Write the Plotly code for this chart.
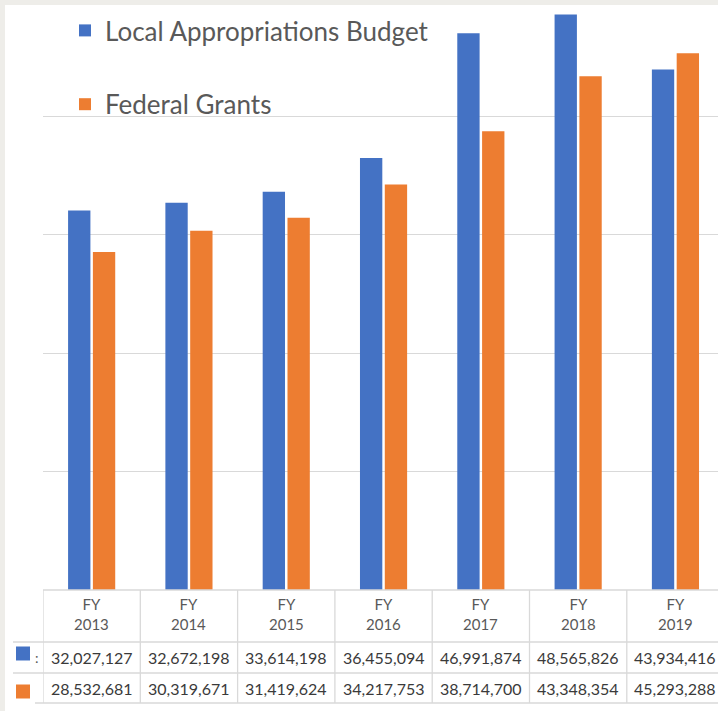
import plotly.graph_objects as go

categories = ["FY<br>2013", "FY<br>2014", "FY<br>2015", "FY<br>2016", "FY<br>2017", "FY<br>2018", "FY<br>2019"]
local_budget = [32027127, 32672198, 33614198, 36455094, 46991874, 48565826, 43934416]
federal_grants = [28532681, 30319671, 31419624, 34217753, 38714700, 43348354, 45293288]
series_names = ["Local Appropriations Budget", "Federal Grants"]
colors = ["#4472C4", "#ED7D31"]

W, H = 718, 711
L, R, T, B = 43, 0, 5, 121
PW, PH = W - L - R, H - T - B
BASE = H - B  # baseline pixel y


def py(p):
    return (BASE - p) / PH


def px(p):
    return (p - L) / PW


TXT = "#595959"
GRID = "#d9d9d9"

fig = go.Figure()
xs = list(range(len(categories)))
for name, vals, col in zip(series_names, [local_budget, federal_grants], colors):
    fig.add_trace(go.Bar(x=xs, y=vals, name=name, marker=dict(color=col, line=dict(width=0)),
                         legendgroup=name))

shapes = []
# white chart panel over light grey page
shapes.append(dict(type="rect", xref="paper", yref="paper", x0=px(5), x1=px(W + 2), y0=py(H + 2), y1=py(5),
                   fillcolor="white", line=dict(width=0), layer="below"))
# table horizontal lines
for yy, x0 in [(BASE, L), (642, 13), (673, 13), (703, 35)]:
    shapes.append(dict(type="line", xref="paper", yref="paper", x0=px(x0), x1=px(W + 2), y0=py(yy), y1=py(yy),
                       line=dict(color=GRID, width=1.3)))
# table vertical lines
for i in range(len(categories)):
    shapes.append(dict(type="line", xref="x", yref="paper", x0=i - 0.5, x1=i - 0.5, y0=py(703), y1=py(BASE),
                       line=dict(color=GRID, width=1.3)))

annotations = []
for i, cat in enumerate(categories):
    annotations.append(dict(x=i, y=py(614), xref="x", yref="paper", text=cat, showarrow=False,
                            font=dict(family="Lato", size=15, color=TXT), xanchor="center", yanchor="middle"))
    annotations.append(dict(x=i, y=py(657.5), xref="x", yref="paper", text=f"{local_budget[i]:,}",
                            showarrow=False, font=dict(family="Lato", size=16, color="#3a3a3a"),
                            xanchor="center", yanchor="middle"))
    annotations.append(dict(x=i, y=py(688.5), xref="x", yref="paper", text=f"{federal_grants[i]:,}",
                            showarrow=False, font=dict(family="Lato", size=16, color="#3a3a3a"),
                            xanchor="center", yanchor="middle"))
# table row keys
for yc, col in [(653.5, colors[0]), (691.5, colors[1])]:
    shapes.append(dict(type="rect", xref="paper", yref="paper", x0=px(16), x1=px(30), y0=py(yc + 7), y1=py(yc - 7),
                       fillcolor=col, line=dict(width=0)))
annotations.append(dict(x=px(37), y=py(657), xref="paper", yref="paper", text=":", showarrow=False,
                        font=dict(family="Lato", size=14, color=TXT), xanchor="center", yanchor="middle"))

fig.update_layout(
    width=W, height=H,
    margin=dict(l=L, r=R, t=T, b=B),
    paper_bgcolor="#eeede9",
    plot_bgcolor="white",
    barmode="group",
    bargap=0.49,
    bargroupgap=0.1,
    showlegend=True,
    legend=dict(x=px(65), y=py(7), xanchor="left", yanchor="top", traceorder="grouped",
                tracegroupgap=37, font=dict(family="Lato", size=26, color=TXT),
                bgcolor="rgba(0,0,0,0)"),
    xaxis=dict(range=[-0.5, -0.5 + PW / 97.3], showticklabels=False, showgrid=False, zeroline=False,
               showline=False, ticks=""),
    yaxis=dict(range=[0, PH / 11.85 * 1e6], dtick=10e6, showticklabels=False, showgrid=True,
               gridcolor=GRID, gridwidth=1.3, zeroline=False, showline=False, ticks=""),
    shapes=shapes,
    annotations=annotations,
)

fig.write_html("out.html", config={"displayModeBar": False},
               post_script="document.body.style.margin='0px';")
